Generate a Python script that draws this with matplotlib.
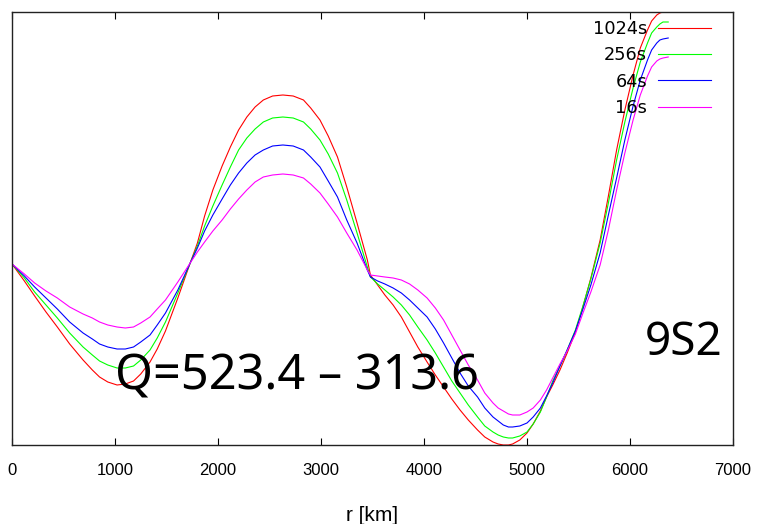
import matplotlib
matplotlib.use("Agg")
import matplotlib.pyplot as plt

# radius (km) and eigenfunction amplitude for each period
r_km = [0, 120, 220, 330, 440, 560, 690, 780, 850, 930,
        1020, 1100, 1180, 1250, 1340, 1410, 1490, 1610, 1730, 1800,
        1870, 1950, 2040, 2120, 2200, 2280, 2360, 2440, 2530, 2630,
        2730, 2830, 2900, 2990, 3070, 3160, 3250, 3350, 3450, 3480,
        3550, 3620, 3700, 3780, 3860, 3940, 4030, 4110, 4190, 4270,
        4350, 4430, 4520, 4590, 4670, 4720, 4770, 4820, 4860, 4930,
        5000, 5060, 5130, 5190, 5250, 5320, 5390, 5470, 5540, 5620,
        5710, 5790, 5870, 5950, 6030, 6100, 6170, 6210, 6260, 6290,
        6320, 6371]

amp_1024 = [0.00, -0.17, -0.32, -0.48, -0.63, -0.80, -0.96, -1.06, -1.13, -1.18,
            -1.21, -1.20, -1.17, -1.10, -0.98, -0.85, -0.67, -0.34, 0.01, 0.21,
            0.48, 0.74, 0.98, 1.17, 1.34, 1.47, 1.57, 1.64, 1.68, 1.69,
            1.68, 1.64, 1.56, 1.44, 1.28, 1.07, 0.77, 0.41, 0.04, -0.11,
            -0.21, -0.31, -0.41, -0.53, -0.68, -0.83, -0.98, -1.11, -1.23, -1.35,
            -1.46, -1.56, -1.66, -1.73, -1.78, -1.80, -1.81, -1.81, -1.80, -1.76,
            -1.69, -1.60, -1.47, -1.33, -1.21, -1.06, -0.89, -0.68, -0.44, -0.14,
            0.24, 0.68, 1.14, 1.54, 1.89, 2.16, 2.34, 2.43, 2.49, 2.51,
            2.52, 2.52]
amp_256 = [0.00, -0.14, -0.28, -0.41, -0.54, -0.69, -0.83, -0.91, -0.97, -1.01,
           -1.04, -1.04, -1.02, -0.96, -0.86, -0.74, -0.58, -0.29, 0.01, 0.18,
           0.38, 0.58, 0.79, 0.97, 1.14, 1.26, 1.35, 1.42, 1.46, 1.47,
           1.46, 1.42, 1.35, 1.24, 1.10, 0.91, 0.64, 0.31, -0.03, -0.13,
           -0.20, -0.26, -0.33, -0.41, -0.51, -0.63, -0.76, -0.89, -1.03, -1.17,
           -1.29, -1.41, -1.53, -1.62, -1.68, -1.71, -1.73, -1.74, -1.74, -1.72,
           -1.68, -1.60, -1.48, -1.33, -1.17, -1.02, -0.86, -0.66, -0.43, -0.15,
           0.21, 0.61, 1.04, 1.42, 1.76, 2.02, 2.21, 2.31, 2.37, 2.40,
           2.42, 2.42]
amp_64 = [0.00, -0.12, -0.23, -0.34, -0.45, -0.58, -0.69, -0.75, -0.80, -0.83,
          -0.85, -0.85, -0.83, -0.78, -0.71, -0.61, -0.49, -0.26, 0.01, 0.16,
          0.33, 0.49, 0.65, 0.79, 0.91, 1.01, 1.09, 1.14, 1.18, 1.19,
          1.18, 1.14, 1.07, 0.97, 0.83, 0.67, 0.44, 0.21, -0.06, -0.13,
          -0.17, -0.20, -0.24, -0.29, -0.36, -0.44, -0.53, -0.65, -0.79, -0.94,
          -1.09, -1.22, -1.33, -1.44, -1.53, -1.57, -1.61, -1.63, -1.63, -1.62,
          -1.59, -1.53, -1.44, -1.32, -1.19, -1.02, -0.86, -0.67, -0.46, -0.21,
          0.11, 0.49, 0.86, 1.24, 1.58, 1.84, 2.04, 2.14, 2.21, 2.24,
          2.25, 2.26]
amp_16 = [0.00, -0.10, -0.19, -0.27, -0.34, -0.43, -0.50, -0.54, -0.58, -0.61,
          -0.63, -0.64, -0.63, -0.59, -0.53, -0.45, -0.36, -0.18, 0.01, 0.12,
          0.22, 0.33, 0.44, 0.55, 0.65, 0.74, 0.82, 0.87, 0.89, 0.90,
          0.89, 0.86, 0.80, 0.71, 0.60, 0.47, 0.31, 0.14, -0.06, -0.11,
          -0.12, -0.13, -0.14, -0.16, -0.20, -0.26, -0.34, -0.44, -0.56, -0.71,
          -0.86, -1.01, -1.16, -1.29, -1.39, -1.44, -1.47, -1.50, -1.51, -1.51,
          -1.48, -1.44, -1.36, -1.26, -1.14, -1.00, -0.87, -0.70, -0.50, -0.28,
          -0.01, 0.34, 0.74, 1.11, 1.44, 1.69, 1.88, 1.97, 2.03, 2.05,
          2.06, 2.07]

labels = ["1024s", "256s", "64s", "16s"]
colors = ["#ff0000", "#00ff00", "#0000ff", "#ff00ff"]
x_ticks = [0, 1000, 2000, 3000, 4000, 5000, 6000, 7000]

fig = plt.figure(figsize=(7.6, 5.24), dpi=100)
ax = fig.add_axes([12 / 760, 79 / 524, 721 / 760, 433 / 524])

for amp, lab, col in zip([amp_1024, amp_256, amp_64, amp_16], labels, colors):
    ax.plot(r_km, amp, color=col, lw=0.8, label=lab)

ax.set_xlim(0, 7000)
ax.set_ylim(-1.81, 2.52)
ax.set_xticks(x_ticks)
ax.set_xticklabels([str(t) for t in x_ticks], family=["Liberation Sans", "DejaVu Sans"], fontsize=12)
ax.set_yticks([])
ax.tick_params(axis="x", direction="in", length=5, width=0.8, top=True, pad=13)
for sp in ax.spines.values():
    sp.set_linewidth(1.0)
    sp.set_color("#222222")

ax.set_xlabel("r [km]", family=["Liberation Sans", "DejaVu Sans"], fontsize=15, labelpad=20)

ax.text(1000, -1.26, "Q=523.4 \u2013 313.6", fontsize=35, family=["Noto Sans", "DejaVu Sans"],
        ha="left", va="baseline")
ax.text(6894, -0.91, "9S2", fontsize=33, family=["Noto Sans", "DejaVu Sans"],
        ha="right", va="baseline")

leg = ax.legend(loc="upper right", bbox_to_anchor=(711 / 760, 1 - 20 / 524),
                bbox_transform=fig.transFigure, frameon=False, markerfirst=False,
                fontsize=12.8, handlelength=3.0, handletextpad=0.6, labelspacing=0.47,
                borderpad=0, borderaxespad=0)

fig.savefig("out.png", dpi=100)
